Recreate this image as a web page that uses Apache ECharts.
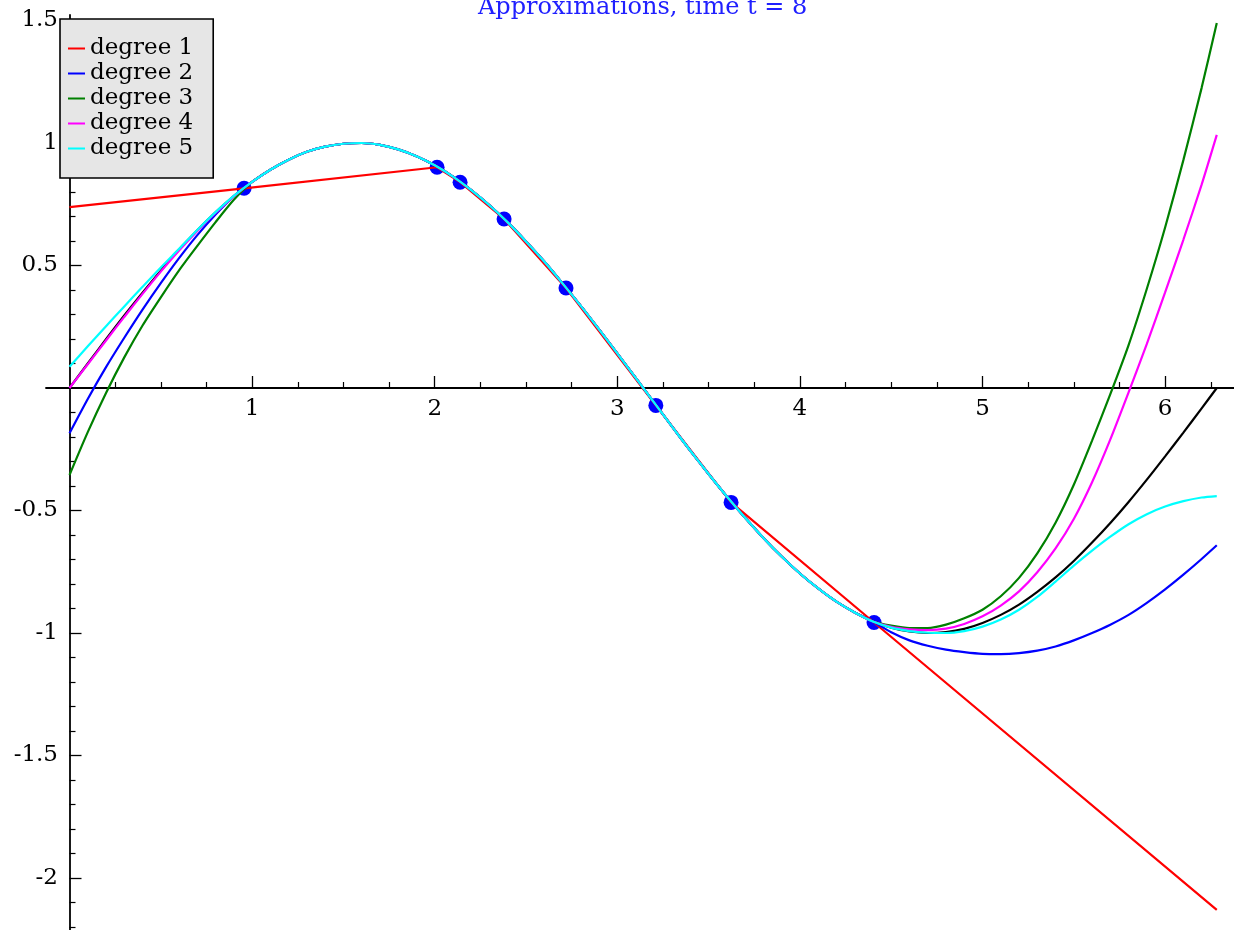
<!DOCTYPE html>
<html>
<head>
<meta charset="utf-8">
<script src="https://cdn.jsdelivr.net/npm/echarts@6/dist/echarts.min.js"></script>
<style>
html,body{margin:0;padding:0;background:#fff;}
#chart{width:1234px;height:930px;}
</style>
</head>
<body>
<div id="chart"></div>
<script>
// Sample abscissae used for the fitted curves (0 .. 2*pi)
const X = [0, 0.1, 0.2, 0.3, 0.4, 0.5, 0.6, 0.7, 0.8, 0.9,
  1.0, 1.1, 1.2, 1.3, 1.4, 1.5, 1.6, 1.7, 1.8, 1.9, 2.0, 2.1, 2.2, 2.3, 2.4, 2.5, 2.6, 2.7, 2.8, 2.9,
  3.0, 3.1, 3.2, 3.3, 3.4, 3.5, 3.6, 3.7, 3.8, 3.9, 4.0, 4.1, 4.2, 4.3,
  4.4, 4.5, 4.6, 4.7, 4.8, 4.9, 5.0, 5.1, 5.2, 5.3, 5.4, 5.5, 5.6, 5.7, 5.8, 5.9, 6.0, 6.1, 6.2, 6.283];

// middle part (x = 1.0 .. 4.3) where all curves coincide
const midY = [0.841, 0.891, 0.932, 0.964, 0.985, 0.997, 1.0, 0.992, 0.974, 0.946, 0.909, 0.863, 0.808, 0.746, 0.676, 0.598, 0.516, 0.427, 0.335, 0.239,
  0.141, 0.042, -0.058, -0.158, -0.256, -0.351, -0.443, -0.53, -0.612, -0.688, -0.757, -0.818, -0.872, -0.916];

// exact function (black): left part x = 0 .. 0.9, right part x = 4.4 .. 2*pi
const exactLeft  = [0.0, 0.1, 0.199, 0.296, 0.389, 0.479, 0.565, 0.644, 0.717, 0.783];
const exactRight = [-0.952, -0.978, -0.994, -1.0, -0.996, -0.983, -0.959, -0.926, -0.884, -0.832, -0.773, -0.706, -0.631, -0.551, -0.465, -0.374, -0.279, -0.182, -0.083, 0.0];

// degree 1 (red): piecewise linear through the sample points
const deg1X = [0, 0.956, 2.013, 2.139, 2.38, 2.719, 3.211, 3.623, 4.406, 6.283];
const deg1Y = [0.738, 0.815, 0.901, 0.84, 0.69, 0.408, -0.071, -0.467, -0.957, -2.13];

// degree 2 (blue)
const deg2Left  = [-0.185, -0.045, 0.085, 0.205, 0.32, 0.428, 0.53, 0.624, 0.708, 0.783];
const deg2Right = [-0.953, -0.997, -1.03, -1.052, -1.068, -1.078, -1.085, -1.086, -1.082, -1.072, -1.055, -1.03, -1.0, -0.966, -0.926, -0.877, -0.822, -0.762, -0.698, -0.642];

// degree 3 (green)
const deg3Left  = [-0.355, -0.18, -0.02, 0.125, 0.255, 0.37, 0.48, 0.58, 0.677, 0.768];
const deg3Right = [-0.953, -0.97, -0.98, -0.98, -0.966, -0.94, -0.905, -0.85, -0.775, -0.675, -0.55, -0.395, -0.215, -0.025, 0.175, 0.405, 0.655, 0.93, 1.225, 1.49];

// degree 4 (magenta)
const deg4Left  = [0.0, 0.097, 0.194, 0.29, 0.384, 0.475, 0.561, 0.641, 0.715, 0.782];
const deg4Right = [-0.953, -0.975, -0.985, -0.988, -0.982, -0.963, -0.932, -0.888, -0.83, -0.752, -0.655, -0.535, -0.385, -0.21, -0.018, 0.18, 0.39, 0.605, 0.83, 1.033];

// degree 5 (cyan)
const deg5Left  = [0.087, 0.17, 0.252, 0.333, 0.413, 0.492, 0.568, 0.645, 0.718, 0.784];
const deg5Right = [-0.953, -0.978, -0.992, -0.999, -1.0, -0.992, -0.974, -0.945, -0.905, -0.853, -0.79, -0.725, -0.664, -0.607, -0.556, -0.515, -0.484, -0.462, -0.447, -0.441];

// the 8 sample points (blue dots)
const ptsX = [0.956, 2.013, 2.139, 2.38, 2.719, 3.211, 3.623, 4.406];
const ptsY = [0.815, 0.901, 0.84, 0.69, 0.408, -0.071, -0.467, -0.957];

// tick values / labels
const xMajorTicks = [1, 2, 3, 4, 5, 6];
const yMajorTicks = [-2, -1.5, -1, -0.5, 0.5, 1, 1.5];
const xMinorTicks = [0.25,0.5,0.75,1.25,1.5,1.75,2.25,2.5,2.75,3.25,3.5,3.75,4.25,4.5,4.75,5.25,5.5,5.75,6.25];
const yMinorTicks = [-2.2,-2.1,-1.9,-1.8,-1.7,-1.6,-1.4,-1.3,-1.2,-1.1,-0.9,-0.8,-0.7,-0.6,-0.4,-0.3,-0.2,-0.1,0.1,0.2,0.3,0.4,0.6,0.7,0.8,0.9,1.1,1.2,1.3,1.4];

const titleText = 'Approximations, time t = 8';
const seriesNames = ['degree 1', 'degree 2', 'degree 3', 'degree 4', 'degree 5'];
const seriesColors = ['#ff0000', '#0000ff', '#008000', '#ff00ff', '#00ffff'];

const pair = (xs, ys) => xs.map((x, i) => [x, ys[i]]);
const full = (left, right) => left.concat(midY, right);

const X_MIN = -0.1287, X_MAX = 6.3773, Y_MIN = -2.2122, Y_MAX = 1.5224;
const FONT = 'DejaVu Serif';
const SMOOTH = 0.25;

const chart = echarts.init(document.getElementById('chart'), null, {renderer: 'canvas'});

const baseX = {
  type: 'value', min: X_MIN, max: X_MAX, position: 'bottom',
  splitLine: {show: false},
  axisLine: {onZero: true, onZeroAxisIndex: 0, lineStyle: {color: '#000', width: 1.8}}
};
const baseY = {
  type: 'value', min: Y_MIN, max: Y_MAX, position: 'left',
  splitLine: {show: false},
  axisLine: {onZero: true, onZeroAxisIndex: 0, lineStyle: {color: '#000', width: 1.8}}
};

const lineSeries = (name, xs, ys, color, smooth) => ({
  type: 'line', name: name, data: pair(xs, ys), smooth: smooth,
  showSymbol: false, lineStyle: {color: color, width: 2.2}, itemStyle: {color: color}, z: 2
});

const option = {
  backgroundColor: '#fff',
  animation: false,
  title: {
    text: titleText, left: 478, top: -4, padding: 0,
    textStyle: {fontFamily: FONT, fontSize: 24, fontWeight: 'normal', color: '#2020ff'}
  },
  grid: {left: 46, right: 0, top: 15, bottom: 0, containLabel: false, outerBoundsMode: 'none'},
  legend: {
    orient: 'vertical', left: 60, top: 19,
    padding: [18, 20, 18, 8], itemGap: 2, itemWidth: 17, itemHeight: 2,
    icon: 'rect',
    backgroundColor: '#e6e6e6', borderColor: '#000', borderWidth: 1.6, borderRadius: 0,
    data: seriesNames,
    textStyle: {fontFamily: FONT, fontSize: 23, color: '#000', lineHeight: 22}
  },
  xAxis: [
    Object.assign({}, baseX, {
      axisTick: {show: true, inside: true, length: 12, customValues: xMajorTicks, lineStyle: {color: '#000', width: 1.3}},
      axisLabel: {show: true, customValues: xMajorTicks, margin: -532, fontFamily: FONT, fontSize: 23, color: '#000'}
    }),
    Object.assign({}, baseX, {
      axisLine: {show: false, onZero: true, onZeroAxisIndex: 0},
      axisTick: {show: true, inside: true, length: 6, customValues: xMinorTicks, lineStyle: {color: '#000', width: 1.2}},
      axisLabel: {show: false}
    })
  ],
  yAxis: [
    Object.assign({}, baseY, {
      axisTick: {show: true, inside: true, length: 12, customValues: yMajorTicks, lineStyle: {color: '#000', width: 1.3}},
      axisLabel: {show: true, customValues: yMajorTicks, margin: -12, fontFamily: FONT, fontSize: 23, color: '#000'}
    }),
    Object.assign({}, baseY, {
      axisLine: {show: false, onZero: true, onZeroAxisIndex: 0},
      axisTick: {show: true, inside: true, length: 6, customValues: yMinorTicks, lineStyle: {color: '#000', width: 1.2}},
      axisLabel: {show: false}
    })
  ],
  series: [
    {
      type: 'scatter', name: 'points', data: pair(ptsX, ptsY),
      symbolSize: 15, itemStyle: {color: '#0000ff', opacity: 1}, z: 1
    },
    lineSeries('exact', X, full(exactLeft, exactRight), '#000000', SMOOTH),
    lineSeries(seriesNames[0], deg1X, deg1Y, seriesColors[0], false),
    lineSeries(seriesNames[1], X, full(deg2Left, deg2Right), seriesColors[1], SMOOTH),
    lineSeries(seriesNames[2], X, full(deg3Left, deg3Right), seriesColors[2], SMOOTH),
    lineSeries(seriesNames[3], X, full(deg4Left, deg4Right), seriesColors[3], SMOOTH),
    lineSeries(seriesNames[4], X, full(deg5Left, deg5Right), seriesColors[4], SMOOTH)
  ]
};
chart.setOption(option);
</script>
</body>
</html>
